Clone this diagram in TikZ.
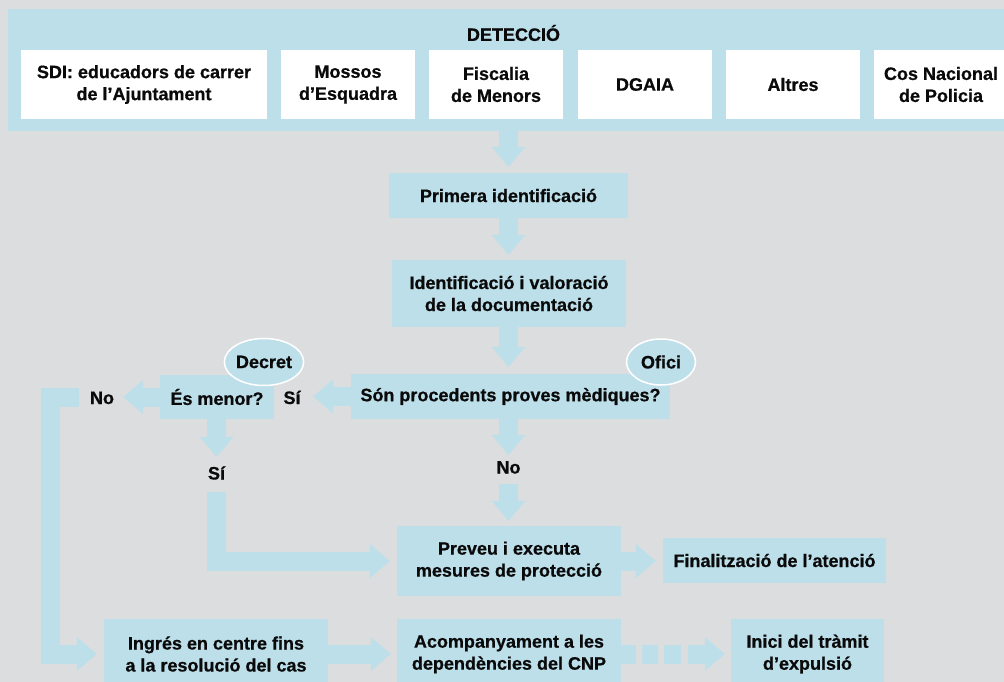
\documentclass[tikz,border=0pt]{standalone}
\usepackage{fontspec}
\setmainfont{Liberation Sans}[BoldFeatures={FakeBold=0.6}]
\usetikzlibrary{arrows.meta,calc,shapes.geometric}
\definecolor{bg}{RGB}{220,221,223}
\definecolor{lb}{RGB}{189,223,234}
\definecolor{tx}{RGB}{10,10,10}
\begin{document}
\begin{tikzpicture}[x=1pt,y=-1pt,
  font=\fontsize{18}{22}\selectfont\bfseries,
  wbox/.style={fill=white, text=tx, align=center, inner sep=0pt, minimum width=134pt, minimum height=69pt},
  bbox/.style={fill=lb, text=tx, align=center, inner sep=0pt},
  lbl/.style={text=tx, inner sep=0pt, text height=13pt, text depth=0pt},
  oval/.style={ellipse, fill=lb, draw=white, line width=1.5pt, inner sep=0pt, text=tx},
  flow/.style={draw=lb, line width=19pt, line join=miter,
    -{Triangle[length=20pt 0 0, width=34pt 0 0, line width=0pt]}}]
\useasboundingbox (0,0) rectangle (1004,682);
\fill[bg] (0,0) rectangle (1004,682);
\clip (0,0) rectangle (1004,682);

% detection panel
\node[fill=lb, minimum width=1010pt, minimum height=122pt, anchor=north west, inner sep=0pt] (panel) at (8,9) {};
\node[text=tx, inner sep=0pt] (title) at (513.5,33) {DETECCIÓ};
\node[wbox, minimum width=246pt] (sdi) at (144,84.5) {SDI: educadors de carrer\\de l’Ajuntament};
\node[wbox] (mossos) at (348,84.5) {Mossos\\d’Esquadra};
\node[wbox] (fisc) at (496,84.5) {Fiscalia\\de Menors};
\node[wbox] (dgaia) at (645,84.5) {DGAIA};
\node[wbox] (altres) at (793,84.5) {Altres};
\node[wbox] (cnp) at (941,84.5) {Cos Nacional\\de Policia};

% flow boxes
\node[bbox, minimum width=239pt, minimum height=45pt] (prim) at (508.5,195.5) {Primera identificació};
\node[bbox, minimum width=234pt, minimum height=67pt] (ident) at (509,293.5) {Identificació i valoració\\de la documentació};
\node[bbox, minimum width=319pt, minimum height=45pt] (son) at (510.5,396.5) {Són procedents proves mèdiques?};
\node[bbox, minimum width=114pt, minimum height=44pt] (esm) at (217,397) {És menor?};
\node[bbox, minimum width=224pt, minimum height=70pt] (prev) at (509,561) {Preveu i executa\\mesures de protecció};
\node[bbox, minimum width=223pt, minimum height=45pt] (fin) at (774.5,560.5) {Finalització de l’atenció};
\node[bbox, minimum width=224pt, minimum height=70pt] (ingr) at (216,654) {Ingrés en centre fins\\a la resolució del cas};
\node[bbox, minimum width=224pt, minimum height=70pt] (acomp) at (509,654) {Acompanyament a les\\dependències del CNP};
\node[bbox, minimum width=153pt, minimum height=70pt] (inici) at (807.5,654) {Inici del tràmit\\d’expulsió};

% ovals
\node[oval, minimum width=78pt, minimum height=47pt] (decret) at (264,362) {Decret};
\node[oval, minimum width=69pt, minimum height=46pt] (ofici) at (661,362) {Ofici};

% labels
\node[lbl] (no1) at (102,397.5) {No};
\node[lbl] (si1) at (292,397.5) {Sí};
\node[lbl] (no2) at (508.5,467) {No};
\node[lbl] (si2) at (216.5,473) {Sí};
\coordinate (lcorner) at (50.5,654);

% connectors
\draw[flow, shorten >=6pt] (prim.north |- panel.south) -- (prim.north);
\draw[flow, shorten >=5pt] (prim.south) -- (prim.south |- ident.north);
\draw[flow, shorten >=7pt] (prim.south |- ident.south) -- (prim.south |- son.north);
\draw[flow, shorten >=5.5pt] (prim.south |- son.south) -- (no2.north);
\draw[flow, shorten <=10.5pt, shorten >=5pt] (no2.south) -- (prim.south |- prev.north);
\draw[flow, shorten >=12.5pt] (son.west) -- (son.west -| si1.east);
\draw[flow, shorten >=9pt] (esm.west) -- (esm.west -| no1.east);
\draw[flow, shorten >=9.5pt] (si2.north |- esm.south) -- (si2.north);
\draw[flow, shorten <=12.5pt, shorten >=7pt] (si2.south) |- (prev.west);
\draw[flow, shorten <=11pt, shorten >=7pt] (no1.west) -| (lcorner) -- (ingr.west);
\draw[flow, shorten >=7pt] (prev.east) -- (prev.east -| fin.west);
\draw[flow, shorten >=6pt] (ingr.east) -- (acomp.west);
\draw[flow, shorten >=6pt, dash pattern=on 15pt off 6pt on 16pt off 6pt on 17pt off 7pt on 60pt off 0pt] (acomp.east) -- (inici.west);
\end{tikzpicture}
\end{document}
